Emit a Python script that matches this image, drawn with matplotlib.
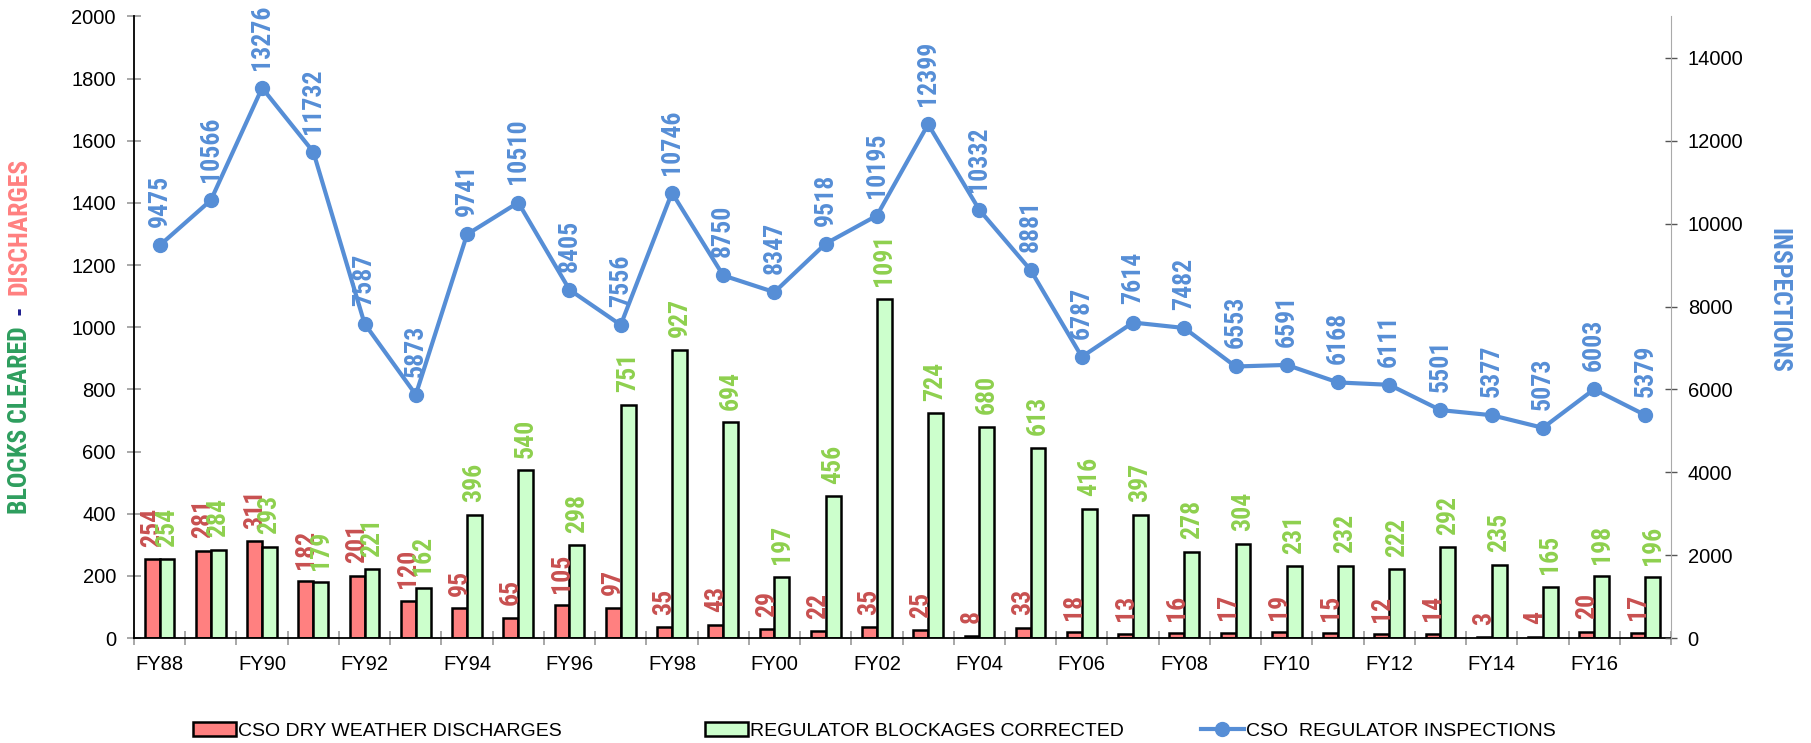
import numpy as np
import matplotlib.pyplot as plt

years = ['FY%02d' % (y % 100) for y in range(1988, 2018)]

discharges = [254, 281, 311, 182, 201, 120, 95, 65, 105, 97, 35, 43, 29, 22, 35,
              25, 8, 33, 18, 13, 16, 17, 19, 15, 12, 14, 3, 4, 20, 17]
blockages = [254, 284, 293, 179, 221, 162, 396, 540, 298, 751, 927, 694, 197, 456, 1091,
             724, 680, 613, 416, 397, 278, 304, 231, 232, 222, 292, 235, 165, 198, 196]
inspections = [9475, 10566, 13276, 11732, 7587, 5873, 9741, 10510, 8405, 7556, 10746,
               8750, 8347, 9518, 10195, 12399, 10332, 8881, 6787, 7614, 7482, 6553,
               6591, 6168, 6111, 5501, 5377, 5073, 6003, 5379]

red = '#FF8080'
green = '#CCFFCC'
blue = '#568ED6'
red_txt = '#C85050'
green_txt = '#8ED04E'
narrow = ['Roboto Condensed', 'Archivo Narrow', 'PT Sans Narrow', 'Liberation Sans']

plt.rcParams['font.family'] = ['Liberation Sans', 'DejaVu Sans']

fig = plt.figure(figsize=(18.11, 7.43), dpi=100)
ax = fig.add_axes([0.074, 0.1413, 0.8487, 0.8365])
ax2 = ax.twinx()

x = np.arange(len(years))
w = 0.29

b1 = ax.bar(x - w/2, discharges, w, color=red, edgecolor='black', linewidth=1.8,
            label='CSO DRY WEATHER DISCHARGES', zorder=2)
b2 = ax.bar(x + w/2, blockages, w, color=green, edgecolor='black', linewidth=1.8,
            label='REGULATOR BLOCKAGES CORRECTED', zorder=2)

for i in range(len(x)):
    ax.annotate(str(discharges[i]), (x[i] - w/2, discharges[i]), xytext=(0, 9),
                textcoords='offset points', rotation=90, ha='center', va='bottom',
                color=red_txt, fontsize=18.5, fontweight='bold', family=narrow)
    ax.annotate(str(blockages[i]), (x[i] + w/2, blockages[i]), xytext=(0, 9),
                textcoords='offset points', rotation=90, ha='center', va='bottom',
                color=green_txt, fontsize=18.5, fontweight='bold', family=narrow)

l1, = ax2.plot(x, inspections, color=blue, linewidth=3, marker='o', markersize=10,
               label='CSO  REGULATOR INSPECTIONS', zorder=3)
for i in range(len(x)):
    ax2.annotate(str(inspections[i]), (x[i], inspections[i]), xytext=(0, 13),
                 textcoords='offset points', rotation=90, ha='center', va='bottom',
                 color=blue, fontsize=18.5, fontweight='bold', family=narrow)

ax.set_xlim(-0.5, len(x) - 0.5)
ax.set_ylim(0, 2000)
ax.set_yticks(range(0, 2001, 200))
ax2.set_ylim(0, 15000)
ax2.set_yticks(range(0, 14001, 2000))

ax.set_xticks(x[::2])
ax.set_xticklabels(years[::2])
ax.set_xticks(np.arange(-0.5, len(x), 1), minor=True)
ax.tick_params(axis='x', which='major', length=0, labelsize=14.5, pad=12)
ax.tick_params(axis='x', which='minor', length=10, direction='inout', color='#999999', width=1.2)
ax.tick_params(axis='y', length=10, direction='inout', color='#999999', width=1.2, labelsize=14.5, pad=8)
ax2.tick_params(axis='y', length=8, direction='inout', color='#555555', width=1, labelsize=14.5, pad=8)

ax.spines['top'].set_visible(False)
ax2.spines['top'].set_visible(False)
ax.spines['right'].set_visible(False)
ax2.spines['left'].set_visible(False)
ax2.spines['bottom'].set_visible(False)
ax2.spines['right'].set_color('#AAAAAA')
ax.spines['left'].set_linewidth(1.3)
ax.spines['bottom'].set_linewidth(1.3)

# left axis title in three colours, chained top to bottom
t1 = fig.text(0.011, 1 - 158/743, 'DISCHARGES', rotation=90, ha='center', va='top',
              color='#FF8080', fontsize=18.5, fontweight='bold', family=narrow)
a2 = fig.add_artist(plt.Annotation('-', xy=(0.5, 0), xycoords=t1, xytext=(0, -8),
                                   textcoords='offset points', rotation=90, ha='center',
                                   va='top', color='#1F1F8F', fontsize=18.5,
                                   fontweight='bold', family=narrow))
fig.add_artist(plt.Annotation('BLOCKS CLEARED', xy=(0.5, 0), xycoords=a2, xytext=(0, -8),
                              textcoords='offset points', rotation=90, ha='center',
                              va='top', color='#2E9E5E', fontsize=18.5,
                              fontweight='bold', family=narrow))

fig.text(0.982, 1 - 300/743, 'INSPECTIONS', rotation=270, ha='center', va='center',
         color=blue, fontsize=18.5, fontweight='bold', family=narrow)

# legend entries placed separately, as in the original layout
for h, xl in zip([b1, b2, l1], [193, 705, 1201]):
    fig.legend(handles=[h], loc='center left', bbox_to_anchor=(xl / 1811, 0.016),
               frameon=False, handlelength=2.2, handletextpad=0.1, borderpad=0,
               borderaxespad=0, prop={'size': 14})

fig.savefig('out.png', dpi=100)
